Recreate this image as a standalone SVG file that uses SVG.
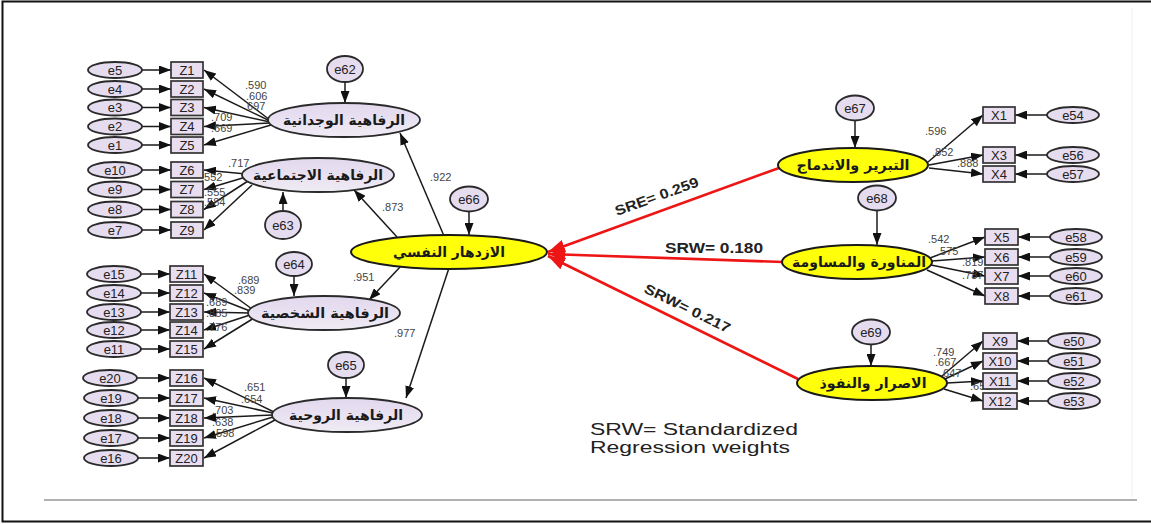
<svg xmlns="http://www.w3.org/2000/svg" width="1151" height="524" viewBox="0 0 1151 524">
  <style>
    .bg { fill: #ffffff; }
    .frame { fill: none; stroke: #111; stroke-width: 2; }
    .rule { stroke: #b0b0b0; stroke-width: 2; }
    .err ellipse { fill: #e6dcef; stroke: #2a2a2a; stroke-width: 1.8; }
    .err text, .box text { font-family: "Liberation Sans", Arial, sans-serif; font-size: 13px; fill: #222; text-anchor: middle; dominant-baseline: central; }
    .box rect { fill: #e9def0; stroke: #333; stroke-width: 1.7; }
    .lat ellipse { fill: url(#latFill); stroke: #2a2a2a; stroke-width: 1.8; }
    .yel ellipse { fill: #ffff0a; stroke: #1a1a1a; stroke-width: 2; }
    .ar { font-family: "DejaVu Sans", "Noto Sans", sans-serif; font-weight: bold; font-size: 14px; fill: #1a1a1a; text-anchor: middle; dominant-baseline: central; }
    .ln { stroke: #1a1a1a; stroke-width: 1.5; fill: none; marker-end: url(#ah); }
    .red { stroke: #ee1515; stroke-width: 2.6; fill: none; marker-end: url(#ahr); }
    .num { font-family: "Liberation Sans", Arial, sans-serif; font-size: 11px; fill: #444; }
    .srw { font-family: "Liberation Sans", Arial, sans-serif; font-size: 14px; font-weight: bold; fill: #222; }
    .legend { font-family: "Liberation Sans", Arial, sans-serif; font-size: 16px; fill: #222; }
  </style>
  <defs>
    <linearGradient id="latFill" x1="0" y1="0" x2="0" y2="1">
      <stop offset="0" stop-color="#e2d8ee"/>
      <stop offset="1" stop-color="#efebf4"/>
    </linearGradient>
    <marker id="ah" viewBox="0 0 12 9" refX="12" refY="4.5" markerWidth="12" markerHeight="9" markerUnits="userSpaceOnUse" orient="auto">
      <path d="M0,0 L12,4.5 L0,9 z" fill="#111"/>
    </marker>
    <marker id="ahr" viewBox="0 0 17 13" refX="17" refY="6.5" markerWidth="17" markerHeight="13" markerUnits="userSpaceOnUse" orient="auto">
      <path d="M0,0 L17,6.5 L0,13 z" fill="#ee1515"/>
    </marker>
  </defs>

  <rect class="bg" x="0" y="0" width="1151" height="524"/>
  <path class="frame" d="M1151,1.5 H2.5 V521.5 H1151"/>
  <line x1="1132" y1="8" x2="1132" y2="497" stroke="#f0f0f0" stroke-width="1"/>
  <line class="rule" x1="44" y1="500" x2="1137" y2="500"/>

  <!-- connectors -->
  <g id="connectors">
    <!-- error terms into indicators, left side -->
    <line class="ln" x1="142" y1="70" x2="171" y2="70"/>
    <line class="ln" x1="142" y1="89" x2="171" y2="89"/>
    <line class="ln" x1="142" y1="107.5" x2="171" y2="107.5"/>
    <line class="ln" x1="142" y1="126.5" x2="171" y2="126.5"/>
    <line class="ln" x1="142" y1="145" x2="171" y2="145"/>
    <line class="ln" x1="142" y1="170" x2="171" y2="170"/>
    <line class="ln" x1="142" y1="189.5" x2="171" y2="189.5"/>
    <line class="ln" x1="142" y1="209.5" x2="171" y2="209.5"/>
    <line class="ln" x1="142" y1="230" x2="171" y2="230"/>
    <line class="ln" x1="141" y1="274" x2="170" y2="274"/>
    <line class="ln" x1="141" y1="293" x2="170" y2="293"/>
    <line class="ln" x1="141" y1="312" x2="170" y2="312"/>
    <line class="ln" x1="141" y1="330" x2="170" y2="330"/>
    <line class="ln" x1="141" y1="349" x2="170" y2="349"/>
    <line class="ln" x1="137" y1="378" x2="170" y2="378"/>
    <line class="ln" x1="137" y1="398" x2="170" y2="398"/>
    <line class="ln" x1="137" y1="418" x2="170" y2="418"/>
    <line class="ln" x1="137" y1="438" x2="170" y2="438"/>
    <line class="ln" x1="137" y1="458" x2="170" y2="458"/>

    <!-- loadings, affective wellbeing -->
    <line class="ln" x1="270" y1="120" x2="204" y2="70"/>
    <line class="ln" x1="270" y1="121" x2="204" y2="89"/>
    <line class="ln" x1="270" y1="122" x2="204" y2="107.5"/>
    <line class="ln" x1="270" y1="123" x2="204" y2="126.5"/>
    <line class="ln" x1="271" y1="125" x2="204" y2="145"/>
    <!-- loadings, social wellbeing -->
    <line class="ln" x1="246" y1="174" x2="204" y2="170"/>
    <line class="ln" x1="246" y1="177" x2="204" y2="189.5"/>
    <line class="ln" x1="248" y1="181" x2="204" y2="209.5"/>
    <line class="ln" x1="252" y1="185" x2="204" y2="230"/>
    <!-- loadings, personal wellbeing -->
    <line class="ln" x1="252" y1="309" x2="204" y2="274"/>
    <line class="ln" x1="250" y1="311" x2="204" y2="293"/>
    <line class="ln" x1="249" y1="313" x2="204" y2="312"/>
    <line class="ln" x1="250" y1="315" x2="204" y2="330"/>
    <line class="ln" x1="254" y1="318" x2="204" y2="349"/>
    <!-- loadings, spiritual wellbeing -->
    <line class="ln" x1="274" y1="412" x2="204" y2="378"/>
    <line class="ln" x1="273" y1="413" x2="204" y2="398"/>
    <line class="ln" x1="273" y1="415" x2="204" y2="418"/>
    <line class="ln" x1="273" y1="417" x2="204" y2="438"/>
    <line class="ln" x1="275" y1="420" x2="204" y2="458"/>

    <!-- disturbances into latent factors -->
    <line class="ln" x1="345" y1="82" x2="345" y2="103"/>
    <line class="ln" x1="283" y1="211" x2="283" y2="192"/>
    <line class="ln" x1="294" y1="276" x2="294" y2="296"/>
    <line class="ln" x1="346" y1="378" x2="346" y2="398"/>
    <line class="ln" x1="469" y1="211" x2="469" y2="235"/>
    <line class="ln" x1="855" y1="120" x2="855" y2="148"/>
    <line class="ln" x1="877" y1="210" x2="877" y2="245"/>
    <line class="ln" x1="871" y1="344" x2="871" y2="366"/>

    <!-- second-order paths -->
    <line class="ln" x1="444" y1="236" x2="400" y2="133"/>
    <line class="ln" x1="397" y1="237" x2="354" y2="190"/>
    <line class="ln" x1="401" y1="266" x2="369" y2="300"/>
    <line class="ln" x1="449" y1="268" x2="406" y2="398"/>

    <!-- loadings, right-hand factors -->
    <line class="ln" x1="928" y1="162" x2="983" y2="115"/>
    <line class="ln" x1="929" y1="165" x2="983" y2="155"/>
    <line class="ln" x1="929" y1="168" x2="983" y2="174"/>
    <line class="ln" x1="930" y1="258" x2="985" y2="237"/>
    <line class="ln" x1="932" y1="261" x2="985" y2="257"/>
    <line class="ln" x1="931" y1="265" x2="985" y2="276"/>
    <line class="ln" x1="927" y1="270" x2="985" y2="296"/>
    <line class="ln" x1="942" y1="376" x2="983" y2="341"/>
    <line class="ln" x1="945" y1="379" x2="983" y2="361"/>
    <line class="ln" x1="947" y1="383" x2="983" y2="381"/>
    <line class="ln" x1="944" y1="389" x2="983" y2="401"/>

    <!-- error terms into indicators, right side -->
    <line class="ln" x1="1047" y1="115" x2="1015" y2="115"/>
    <line class="ln" x1="1047" y1="155" x2="1015" y2="155"/>
    <line class="ln" x1="1047" y1="174" x2="1015" y2="174"/>
    <line class="ln" x1="1050" y1="237" x2="1018" y2="237"/>
    <line class="ln" x1="1050" y1="257" x2="1018" y2="257"/>
    <line class="ln" x1="1050" y1="276" x2="1018" y2="276"/>
    <line class="ln" x1="1050" y1="296" x2="1018" y2="296"/>
    <line class="ln" x1="1048" y1="341" x2="1017" y2="341"/>
    <line class="ln" x1="1048" y1="361" x2="1017" y2="361"/>
    <line class="ln" x1="1048" y1="381" x2="1017" y2="381"/>
    <line class="ln" x1="1048" y1="401" x2="1017" y2="401"/>

    <!-- structural paths into psychological flourishing -->
    <line class="red" x1="779" y1="168" x2="548" y2="252"/>
    <line class="red" x1="783" y1="262" x2="548" y2="254"/>
    <line class="red" x1="798" y1="379" x2="548" y2="256"/>

    <!-- coefficient labels -->
    <text class="num" x="245" y="89">.590</text>
    <text class="num" x="246" y="100">.606</text>
    <text class="num" x="244" y="110">.697</text>
    <text class="num" x="211" y="121">.709</text>
    <text class="num" x="211" y="132">.669</text>
    <text class="num" x="228" y="167">.717</text>
    <text class="num" x="201" y="181">.552</text>
    <text class="num" x="204" y="196">.555</text>
    <text class="num" x="204" y="206">.584</text>
    <text class="num" x="238" y="284">.689</text>
    <text class="num" x="234" y="294">.839</text>
    <text class="num" x="206" y="306">.689</text>
    <text class="num" x="206" y="317">.885</text>
    <text class="num" x="206" y="331">.776</text>
    <text class="num" x="244" y="391">.651</text>
    <text class="num" x="241" y="403">.654</text>
    <text class="num" x="212" y="414">.703</text>
    <text class="num" x="212" y="426">.638</text>
    <text class="num" x="213" y="437">.598</text>
    <text class="num" x="430" y="181">.922</text>
    <text class="num" x="382" y="211">.873</text>
    <text class="num" x="353" y="281">.951</text>
    <text class="num" x="394" y="337">.977</text>
    <text class="num" x="925" y="135">.596</text>
    <text class="num" x="932" y="156">.852</text>
    <text class="num" x="957" y="167">.888</text>
    <text class="num" x="928" y="243">.542</text>
    <text class="num" x="937" y="255">.575</text>
    <text class="num" x="962" y="266">.819</text>
    <text class="num" x="962" y="279">.787</text>
    <text class="num" x="933" y="356">.749</text>
    <text class="num" x="935" y="366">.667</text>
    <text class="num" x="940" y="377">.647</text>
    <text class="num" x="970" y="390">.652</text>

    <text class="srw" transform="translate(617,216) rotate(-20)" textLength="88" lengthAdjust="spacingAndGlyphs">SRE= 0.259</text>
    <text class="srw" x="665" y="253" textLength="98" lengthAdjust="spacingAndGlyphs">SRW= 0.180</text>
    <text class="srw" transform="translate(643,292) rotate(26)" textLength="94" lengthAdjust="spacingAndGlyphs">SRW= 0.217</text>
  </g>

  <!-- error terms, left -->
  <g id="e5" class="err"><ellipse cx="115" cy="70" rx="27" ry="8"/><text x="115" y="70">e5</text></g>
  <g id="e4" class="err"><ellipse cx="115" cy="89" rx="27" ry="8"/><text x="115" y="89">e4</text></g>
  <g id="e3" class="err"><ellipse cx="115" cy="107.5" rx="27" ry="8"/><text x="115" y="107.5">e3</text></g>
  <g id="e2" class="err"><ellipse cx="115" cy="126.5" rx="27" ry="8"/><text x="115" y="126.5">e2</text></g>
  <g id="e1" class="err"><ellipse cx="115" cy="145" rx="27" ry="8"/><text x="115" y="145">e1</text></g>
  <g id="e10" class="err"><ellipse cx="115" cy="170" rx="27" ry="8"/><text x="115" y="170">e10</text></g>
  <g id="e9" class="err"><ellipse cx="115" cy="189.5" rx="27" ry="8"/><text x="115" y="189.5">e9</text></g>
  <g id="e8" class="err"><ellipse cx="115" cy="209.5" rx="27" ry="8"/><text x="115" y="209.5">e8</text></g>
  <g id="e7" class="err"><ellipse cx="115" cy="230" rx="27" ry="8"/><text x="115" y="230">e7</text></g>
  <g id="e15" class="err"><ellipse cx="114" cy="274" rx="27" ry="8"/><text x="114" y="274">e15</text></g>
  <g id="e14" class="err"><ellipse cx="114" cy="293" rx="27" ry="8"/><text x="114" y="293">e14</text></g>
  <g id="e13" class="err"><ellipse cx="114" cy="312" rx="27" ry="8"/><text x="114" y="312">e13</text></g>
  <g id="e12" class="err"><ellipse cx="114" cy="330" rx="27" ry="8"/><text x="114" y="330">e12</text></g>
  <g id="e11" class="err"><ellipse cx="114" cy="349" rx="27" ry="8"/><text x="114" y="349">e11</text></g>
  <g id="e20" class="err"><ellipse cx="110" cy="378" rx="27" ry="8"/><text x="110" y="378">e20</text></g>
  <g id="e19" class="err"><ellipse cx="111" cy="398" rx="27" ry="8"/><text x="111" y="398">e19</text></g>
  <g id="e18" class="err"><ellipse cx="111" cy="418" rx="27" ry="8"/><text x="111" y="418">e18</text></g>
  <g id="e17" class="err"><ellipse cx="111" cy="438" rx="27" ry="8"/><text x="111" y="438">e17</text></g>
  <g id="e16" class="err"><ellipse cx="111" cy="458" rx="27" ry="8"/><text x="111" y="458">e16</text></g>

  <!-- observed indicators, left -->
  <g id="Z1" class="box"><rect x="171" y="62" width="32" height="16"/><text x="187" y="70">Z1</text></g>
  <g id="Z2" class="box"><rect x="171" y="81" width="32" height="16"/><text x="187" y="89">Z2</text></g>
  <g id="Z3" class="box"><rect x="171" y="99.5" width="32" height="16"/><text x="187" y="107.5">Z3</text></g>
  <g id="Z4" class="box"><rect x="171" y="118.5" width="32" height="16"/><text x="187" y="126.5">Z4</text></g>
  <g id="Z5" class="box"><rect x="171" y="137" width="32" height="16"/><text x="187" y="145">Z5</text></g>
  <g id="Z6" class="box"><rect x="171" y="162" width="32" height="16"/><text x="187" y="170">Z6</text></g>
  <g id="Z7" class="box"><rect x="171" y="181.5" width="32" height="16"/><text x="187" y="189.5">Z7</text></g>
  <g id="Z8" class="box"><rect x="171" y="201.5" width="32" height="16"/><text x="187" y="209.5">Z8</text></g>
  <g id="Z9" class="box"><rect x="171" y="222" width="32" height="16"/><text x="187" y="230">Z9</text></g>
  <g id="Z11" class="box"><rect x="170" y="266" width="33" height="16"/><text x="186.5" y="274">Z11</text></g>
  <g id="Z12" class="box"><rect x="170" y="285" width="33" height="16"/><text x="186.5" y="293">Z12</text></g>
  <g id="Z13" class="box"><rect x="170" y="304" width="33" height="16"/><text x="186.5" y="312">Z13</text></g>
  <g id="Z14" class="box"><rect x="170" y="322" width="33" height="16"/><text x="186.5" y="330">Z14</text></g>
  <g id="Z15" class="box"><rect x="170" y="341" width="33" height="16"/><text x="186.5" y="349">Z15</text></g>
  <g id="Z16" class="box"><rect x="170" y="370" width="33" height="16"/><text x="186.5" y="378">Z16</text></g>
  <g id="Z17" class="box"><rect x="170" y="390" width="33" height="16"/><text x="186.5" y="398">Z17</text></g>
  <g id="Z18" class="box"><rect x="170" y="410" width="33" height="16"/><text x="186.5" y="418">Z18</text></g>
  <g id="Z19" class="box"><rect x="170" y="430" width="33" height="16"/><text x="186.5" y="438">Z19</text></g>
  <g id="Z20" class="box"><rect x="170" y="450" width="33" height="16"/><text x="186.5" y="458">Z20</text></g>

  <!-- first-order wellbeing factors -->
  <g id="affective" class="lat"><ellipse cx="344" cy="120" rx="76" ry="17"/><text class="ar" x="344" y="120" textLength="122" lengthAdjust="spacingAndGlyphs">الرفاهية الوجدانية</text></g>
  <g id="social" class="lat"><ellipse cx="318" cy="175" rx="76" ry="17"/><text class="ar" x="318" y="175" textLength="130" lengthAdjust="spacingAndGlyphs">الرفاهية الاجتماعية</text></g>
  <g id="personal" class="lat"><ellipse cx="324" cy="313" rx="76" ry="17"/><text class="ar" x="325" y="313" textLength="128" lengthAdjust="spacingAndGlyphs">الرفاهية الشخصية</text></g>
  <g id="spiritual" class="lat"><ellipse cx="347" cy="415" rx="75" ry="17"/><text class="ar" x="346" y="415" textLength="114" lengthAdjust="spacingAndGlyphs">الرفاهية الروحية</text></g>

  <!-- disturbances -->
  <g id="e62" class="err"><ellipse cx="345" cy="69" rx="18" ry="13"/><text x="345" y="69">e62</text></g>
  <g id="e63" class="err"><ellipse cx="283" cy="225" rx="18" ry="14"/><text x="283" y="225">e63</text></g>
  <g id="e64" class="err"><ellipse cx="294" cy="264" rx="18" ry="12"/><text x="294" y="264">e64</text></g>
  <g id="e65" class="err"><ellipse cx="346" cy="365" rx="18" ry="13"/><text x="346" y="365">e65</text></g>
  <g id="e66" class="err"><ellipse cx="469" cy="199" rx="19" ry="12.5"/><text x="469" y="199">e66</text></g>
  <g id="e67" class="err"><ellipse cx="855" cy="108" rx="19" ry="12.5"/><text x="855" y="108">e67</text></g>
  <g id="e68" class="err"><ellipse cx="877" cy="198" rx="19" ry="12.5"/><text x="877" y="198">e68</text></g>
  <g id="e69" class="err"><ellipse cx="871" cy="332" rx="19" ry="12.5"/><text x="871" y="332">e69</text></g>

  <!-- psychological flourishing and right-hand factors -->
  <g id="flourishing" class="yel"><ellipse cx="449" cy="252" rx="98" ry="17"/><text class="ar" x="449" y="252" textLength="112" lengthAdjust="spacingAndGlyphs">الازدهار النفسي</text></g>
  <g id="justification" class="yel"><ellipse cx="853" cy="165" rx="75" ry="17"/><text class="ar" x="853" y="165" textLength="113" lengthAdjust="spacingAndGlyphs">التبرير والاندماج</text></g>
  <g id="maneuvering" class="yel"><ellipse cx="857" cy="262" rx="75" ry="17"/><text class="ar" x="859" y="262" textLength="134" lengthAdjust="spacingAndGlyphs">المناورة والمساومة</text></g>
  <g id="persistence" class="yel"><ellipse cx="872" cy="383" rx="75" ry="17"/><text class="ar" x="873" y="383" textLength="107" lengthAdjust="spacingAndGlyphs">الاصرار والنفوذ</text></g>

  <!-- observed indicators, right -->
  <g id="X1" class="box"><rect x="983" y="107" width="32" height="16"/><text x="999" y="115">X1</text></g>
  <g id="X3" class="box"><rect x="983" y="147" width="32" height="16"/><text x="999" y="155">X3</text></g>
  <g id="X4" class="box"><rect x="983" y="166" width="32" height="16"/><text x="999" y="174">X4</text></g>
  <g id="X5" class="box"><rect x="985" y="229" width="33" height="16"/><text x="1001.5" y="237">X5</text></g>
  <g id="X6" class="box"><rect x="985" y="249" width="33" height="16"/><text x="1001.5" y="257">X6</text></g>
  <g id="X7" class="box"><rect x="985" y="268" width="33" height="16"/><text x="1001.5" y="276">X7</text></g>
  <g id="X8" class="box"><rect x="985" y="288" width="33" height="16"/><text x="1001.5" y="296">X8</text></g>
  <g id="X9" class="box"><rect x="983" y="333" width="34" height="16"/><text x="1000" y="341">X9</text></g>
  <g id="X10" class="box"><rect x="983" y="353" width="34" height="16"/><text x="1000" y="361">X10</text></g>
  <g id="X11" class="box"><rect x="983" y="373" width="34" height="16"/><text x="1000" y="381">X11</text></g>
  <g id="X12" class="box"><rect x="983" y="393" width="34" height="16"/><text x="1000" y="401">X12</text></g>

  <!-- error terms, right -->
  <g id="e54" class="err"><ellipse cx="1073" cy="115" rx="26" ry="8"/><text x="1073" y="115">e54</text></g>
  <g id="e56" class="err"><ellipse cx="1073" cy="155" rx="26" ry="8"/><text x="1073" y="155">e56</text></g>
  <g id="e57" class="err"><ellipse cx="1073" cy="174" rx="26" ry="8"/><text x="1073" y="174">e57</text></g>
  <g id="e58" class="err"><ellipse cx="1076" cy="237" rx="26" ry="8"/><text x="1076" y="237">e58</text></g>
  <g id="e59" class="err"><ellipse cx="1076" cy="257" rx="26" ry="8"/><text x="1076" y="257">e59</text></g>
  <g id="e60" class="err"><ellipse cx="1076" cy="276" rx="26" ry="8"/><text x="1076" y="276">e60</text></g>
  <g id="e61" class="err"><ellipse cx="1076" cy="296" rx="26" ry="8"/><text x="1076" y="296">e61</text></g>
  <g id="e50" class="err"><ellipse cx="1074" cy="341" rx="26" ry="8"/><text x="1074" y="341">e50</text></g>
  <g id="e51" class="err"><ellipse cx="1074" cy="361" rx="26" ry="8"/><text x="1074" y="361">e51</text></g>
  <g id="e52" class="err"><ellipse cx="1074" cy="381" rx="26" ry="8"/><text x="1074" y="381">e52</text></g>
  <g id="e53" class="err"><ellipse cx="1074" cy="401" rx="26" ry="8"/><text x="1074" y="401">e53</text></g>

  <!-- legend -->
  <g id="legend">
    <text class="legend" x="590" y="435" textLength="208" lengthAdjust="spacingAndGlyphs">SRW= Standardized</text>
    <text class="legend" x="590" y="453" textLength="200" lengthAdjust="spacingAndGlyphs">Regression weights</text>
  </g>
</svg>
